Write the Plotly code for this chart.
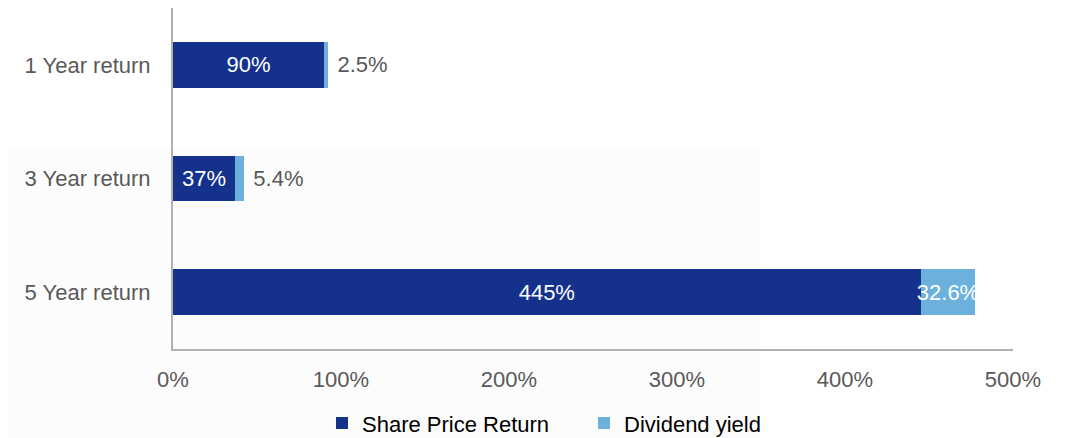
#--------------------- Packages
import plotly.graph_objects as go

#--------------------- Data
categories = ['1 Year return', '3 Year return', '5 Year return']
share_price_return = [90, 37, 445]
dividend_yield = [2.5, 5.4, 32.6]
share_labels = ['90%', '37%', '445%']
dividend_labels = ['\u00a02.5%', '\u00a05.4%', '32.6%']
tick_values = [0, 100, 200, 300, 400, 500]
tick_labels = ['0%', '100%', '200%', '300%', '400%', '500%']

DARK_BLUE = '#14328C'
LIGHT_BLUE = '#6BB1DC'
GREY_TEXT = '#595959'
FONT = 'Liberation Sans, Arial, sans-serif'
SIZE = 22

#--------------------- Bars
fig = go.Figure()

fig.add_trace(
    go.Bar(
        y=categories, x=share_price_return, orientation='h',
        name='Share Price Return',
        marker=dict(color=DARK_BLUE, line=dict(width=0)),
        text=share_labels, textposition='inside',
        insidetextanchor='middle',
        textfont=dict(color='white', size=SIZE, family=FONT),
        hoverinfo='x+y'))

fig.add_trace(
    go.Bar(
        y=categories, x=dividend_yield, orientation='h',
        name='Dividend yield',
        marker=dict(color=LIGHT_BLUE, line=dict(width=0)),
        text=dividend_labels,
        textposition=['outside', 'outside', 'inside'],
        insidetextanchor='middle',
        constraintext='none',
        insidetextfont=dict(color='white', size=SIZE, family=FONT),
        outsidetextfont=dict(color=GREY_TEXT, size=SIZE, family=FONT),
        cliponaxis=False,
        hoverinfo='x+y'))

# faint panel behind the lower part of the chart
fig.add_shape(
    type='rect', xref='paper', yref='paper',
    x0=-0.206, x1=0.699, y0=-0.3, y1=0.589,
    fillcolor='#FCFCFC', line=dict(width=0), layer='below')

#--------------------- Axes
fig.update_xaxes(
    range=[0, 500], tickvals=tick_values, ticktext=tick_labels,
    showline=True, linewidth=2, linecolor='#B0B0B0',
    showgrid=False, zeroline=False,
    ticks='outside', ticklen=10, tickcolor='rgba(0,0,0,0)',
    tickfont=dict(size=SIZE, color=GREY_TEXT, family=FONT))

fig.update_yaxes(
    categoryorder='array', categoryarray=categories[::-1],
    showline=True, linewidth=2, linecolor='#B0B0B0',
    showgrid=False, zeroline=False,
    ticks='outside', ticklen=16, tickcolor='rgba(0,0,0,0)',
    tickfont=dict(size=SIZE, color=GREY_TEXT, family=FONT))

#--------------------- Layout
fig.update_layout(
    width=1068, height=438,
    barmode='stack', bargap=0.6,
    plot_bgcolor='rgba(0,0,0,0)', paper_bgcolor='white',
    margin=dict(l=165, r=63, t=0, b=97, autoexpand=False),
    font=dict(family=FONT, size=SIZE, color=GREY_TEXT),
    showlegend=True,
    legend=dict(
        orientation='h', traceorder='normal',
        xref='container', x=0.294, xanchor='left',
        yref='container', y=0.052, yanchor='middle',
        font=dict(size=SIZE, color='black', family=FONT),
        itemwidth=30, entrywidth=217,
        bgcolor='rgba(0,0,0,0)'))

fig.write_html("out.html")
